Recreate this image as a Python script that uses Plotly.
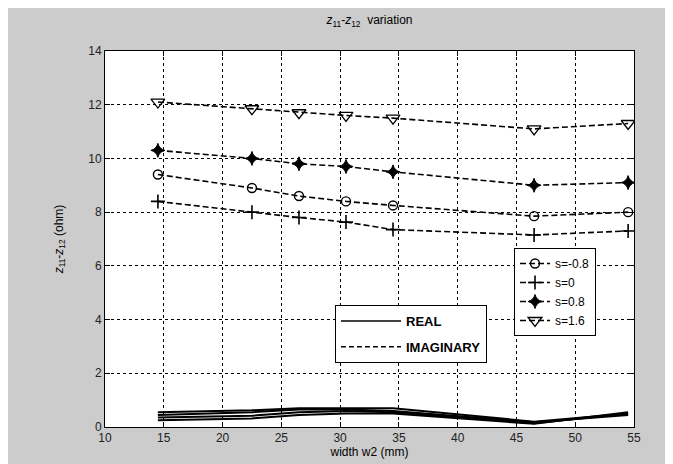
import plotly.graph_objects as go

width_w2 = [14.5, 22.5, 26.5, 30.5, 34.5, 46.5, 54.5]
s_labels = ["s=-0.8", "s=0", "s=0.8", "s=1.6"]

imag_vals = {
    "s=-0.8": [9.4, 8.9, 8.6, 8.4, 8.25, 7.85, 8.0],
    "s=0":    [8.4, 8.0, 7.8, 7.63, 7.35, 7.15, 7.3],
    "s=0.8":  [10.3, 10.0, 9.8, 9.7, 9.5, 9.0, 9.1],
    "s=1.6":  [12.1, 11.85, 11.7, 11.6, 11.5, 11.1, 11.3],
}
real_vals = {
    "s=-0.8": [0.55, 0.62, 0.7, 0.7, 0.7, 0.2, 0.5],
    "s=0":    [0.45, 0.55, 0.65, 0.65, 0.6, 0.18, 0.45],
    "s=0.8":  [0.35, 0.42, 0.55, 0.6, 0.55, 0.14, 0.5],
    "s=1.6":  [0.25, 0.32, 0.45, 0.5, 0.5, 0.12, 0.55],
}
x_ticks = [10, 15, 20, 25, 30, 35, 40, 45, 50, 55]
y_ticks = [0, 2, 4, 6, 8, 10, 12, 14]

symbols = {
    "s=-0.8": ("circle-open", 9, 1.4),
    "s=0": ("cross-thin-open", 10, 1.6),
    "s=0.8": ("star-diamond", 10, 1.0),
    "s=1.6": ("triangle-down-open", 12, 1.3),
}

fig = go.Figure()

for s in s_labels:
    fig.add_trace(go.Scatter(
        x=width_w2, y=real_vals[s], mode="lines",
        line=dict(color="black", width=2), showlegend=False, hoverinfo="skip"))

for s in s_labels:
    sym, size, lw = symbols[s]
    fig.add_trace(go.Scatter(
        x=width_w2, y=imag_vals[s], mode="lines+markers", name=s,
        line=dict(color="black", width=1.6, dash="6px,3px"),
        marker=dict(symbol=sym, size=size, color="black",
                    line=dict(color="black", width=lw)),
        legend="legend"))

fig.add_trace(go.Scatter(x=[None], y=[None], mode="lines", name="<b>REAL</b>",
                         line=dict(color="black", width=1.5),
                         legend="legend2", legendgroup="r"))
fig.add_trace(go.Scatter(x=[None], y=[None], mode="lines", name="<b>IMAGINARY</b>",
                         line=dict(color="black", width=1.5, dash="5px,3px"),
                         legend="legend2", legendgroup="i"))

axis_common = dict(
    showline=True, linecolor="black", linewidth=1, mirror="ticks",
    ticks="inside", ticklen=5, tickcolor="black",
    showgrid=True, gridcolor="black", gridwidth=1, griddash="3px,3px",
    zeroline=False, tickfont=dict(family="Liberation Sans, Arial", size=12, color="#222"),
)

fig.update_layout(
    width=673, height=464,
    paper_bgcolor="#cccccc", plot_bgcolor="white",
    margin=dict(l=97, r=47, t=43, b=45),
    font=dict(family="Liberation Sans, Arial", size=11, color="black"),
    title=dict(text="<i>z</i><sub>11</sub>-<i>z</i><sub>12</sub>  variation",
               x=(97 + 626) / 2 / 673, xanchor="center", y=1 - 12 / 464, yanchor="middle",
               font=dict(size=12)),
    xaxis=dict(range=[10, 55], tickvals=x_ticks, **axis_common,
               title=dict(text="width w2 (mm)", standoff=2, font=dict(size=12))),
    yaxis=dict(range=[0, 14], tickvals=y_ticks, **axis_common,
               title=dict(text="<i>z</i><sub>11</sub>-<i>z</i><sub>12</sub> (ohm)", standoff=22,
                          font=dict(size=12))),
    legend=dict(x=(506 - 97) / 529, y=(419 - 240) / 376, xanchor="left", yanchor="top",
                bgcolor="white", bordercolor="black", borderwidth=1,
                font=dict(size=12), itemwidth=30, tracegroupgap=0),
    legend2=dict(x=(327 - 97) / 529, y=(419 - 297) / 376, xanchor="left", yanchor="top",
                 bgcolor="white", bordercolor="black", borderwidth=1,
                 font=dict(size=13), itemwidth=60, tracegroupgap=6),
)

fig.write_html("out.html")
